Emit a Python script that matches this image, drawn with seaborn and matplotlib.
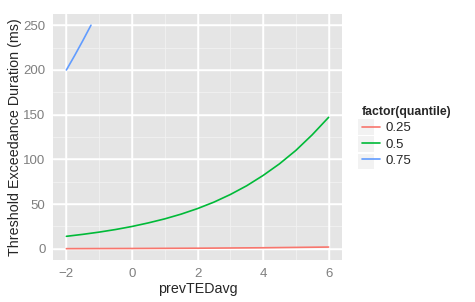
import numpy as np
import pandas as pd
import matplotlib
matplotlib.use("Agg")
import matplotlib.pyplot as plt
from matplotlib.lines import Line2D
from matplotlib.patches import Rectangle
import seaborn as sns

# values
quantiles = ["0.25", "0.5", "0.75"]
colors = ["#F8766D", "#00BA38", "#619CFF"]

x_q25 = [-2, 0, 2, 4, 6]
y_q25 = [0.2, 0.4, 0.7, 1.2, 2.0]

x_q50 = [-2, -1.5, -1, -0.5, 0, 0.5, 1, 1.5, 2, 2.5, 3, 3.5, 4, 4.5, 5, 5.5, 6]
y_q50 = [14, 16.2, 18.7, 21.6, 25, 29, 33.5, 38.8, 45, 52.2, 60.7, 70.5, 82, 95, 110, 127.5, 147]

x_q75 = [-2, -1.75, -1.5, -1.25]
y_q75 = [200, 216, 232.7, 250]

x_ticks = [-2, 0, 2, 4, 6]
y_ticks = [0, 50, 100, 150, 200, 250]


def build_frame():
    d = {"prevTEDavg": [], "value": [], "quantile": []}
    for q, xs, ys in zip(quantiles, [x_q25, x_q50, x_q75], [y_q25, y_q50, y_q75]):
        d["prevTEDavg"] += xs
        d["value"] += ys
        d["quantile"] += [q] * len(xs)
    return pd.DataFrame(d)


def main():
    df = build_frame()
    fig = plt.figure(figsize=(4.75, 3.02), dpi=100)
    ax = fig.add_axes([0.1122, 0.139, 0.6072, 0.8146])
    ax.set_facecolor("#E5E5E5")

    # minor grid, then major grid
    for v in [-1, 1, 3, 5]:
        ax.axvline(v, color="#F2F2F2", lw=0.6, zorder=0)
    for v in [25, 75, 125, 175, 225]:
        ax.axhline(v, color="#F2F2F2", lw=0.6, zorder=0)
    for v in x_ticks:
        ax.axvline(v, color="white", lw=1.1, zorder=0)
    for v in y_ticks:
        ax.axhline(v, color="white", lw=1.1, zorder=0)

    sns.lineplot(data=df, x="prevTEDavg", y="value", hue="quantile",
                 hue_order=quantiles, palette=colors, estimator=None,
                 sort=False, lw=1.2, ax=ax, legend=False, zorder=3)

    ax.set_xlim(-2.4, 6.4)
    ax.set_ylim(-12.5, 262.5)
    ax.set_xticks(x_ticks)
    ax.set_xticklabels(["\u22122", "0", "2", "4", "6"])
    ax.set_yticks(y_ticks)
    for s in ax.spines.values():
        s.set_visible(False)
    ax.tick_params(colors="#7F7F7F", labelcolor="#7F7F7F", labelsize=9.5,
                   length=3.5, width=0.8, pad=2)
    ax.set_xlabel("prevTEDavg", fontsize=10.3, labelpad=2)
    ax.set_ylabel("Threshold Exceedance Duration (ms)", fontsize=10.3, labelpad=1)

    # legend key backgrounds
    for yc in [126.7, 144, 161.3]:
        fig.patches.append(Rectangle((358 / 475, 1 - (yc + 7.8) / 302), 16 / 475, 15.6 / 302,
                                     transform=fig.transFigure, facecolor="#F2F2F2",
                                     edgecolor="none", zorder=0))
    handles = [Line2D([], [], color=c, lw=1.2) for c in colors]
    leg = fig.legend(handles, quantiles, title="factor(quantile)",
                     loc="upper left", bbox_to_anchor=(353 / 475, 1 - 97 / 302),
                     frameon=False, fontsize=9.5, handlelength=1.35,
                     handletextpad=0.45, labelspacing=0.3, borderpad=0.2)
    leg.get_title().set_fontweight("bold")
    leg.get_title().set_fontsize(8.8)
    leg._legend_box.align = "left"

    fig.savefig("out.png", dpi=100)


if __name__ == "__main__":
    sns.set_theme(style="darkgrid")
    plt.rcParams["font.family"] = ["Liberation Sans", "DejaVu Sans"]
    main()
